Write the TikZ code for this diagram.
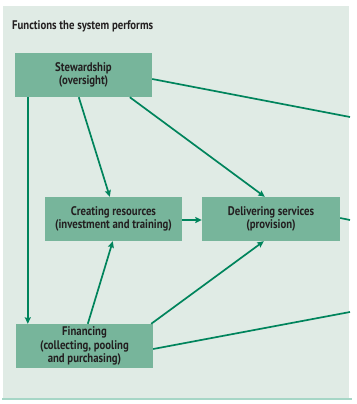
\documentclass[tikz,border=0pt]{standalone}
\usepackage{fontspec}
\setmainfont{PT Sans}[FakeStretch=0.86]
\usetikzlibrary{arrows.meta}
\definecolor{panelbg}{HTML}{E0EBE5}
\definecolor{boxfill}{HTML}{77B59B}
\definecolor{linegreen}{HTML}{00845C}
\definecolor{rulegreen}{HTML}{A6D6C6}
\definecolor{textdark}{HTML}{231F20}
\tikzset{
  fnbox/.style={draw=none, fill=boxfill, minimum width=137pt, minimum height=44pt,
    inner sep=0pt, align=center, font=\bfseries\fontsize{12.5}{13.5}\selectfont, text=textdark},
  link/.style={draw=linegreen, line width=1.7pt},
  arr/.style={link, -{Stealth[length=6.5pt,width=6pt,inset=1pt]}}
}
\begin{document}
\begin{tikzpicture}[x=1pt,y=-1pt]
  \useasboundingbox (0,0) rectangle (356,404);
  % background panel and bottom rule
  \fill[panelbg] (3,6) rectangle (349,398);
  \draw[rulegreen, line width=1.5pt] (2,399) -- (352,399);

  \node[anchor=west, font=\bfseries\fontsize{12.5}{14}\selectfont, text=textdark, inner sep=0pt]
    (title) at (12,26) {Functions the system performs};

  % function boxes
  \node[fnbox] (stew) at (83.5,75) {Stewardship\\(oversight)};
  \node[fnbox] (create) at (113.5,219) {Creating resources\\(investment and training)};
  \node[fnbox, minimum width=138pt] (deliver) at (271,219) {Delivering services\\(provision)};
  \node[fnbox] (finance) at (84.5,346) {Financing\\(collecting, pooling\\and purchasing)};

  % lines running off the right edge
  \coordinate (outA) at (350,117);
  \coordinate (outB) at (350,220);
  \coordinate (outC) at (350,312);

  % connectors
  \draw[arr] ([xshift=13pt]stew.south west) -- ([xshift=12pt]finance.north west);
  \draw[arr] ([xshift=64pt]stew.south west) -- ([xshift=65pt]create.north west);
  \draw[arr] ([xshift=115pt]stew.south west) -- ([xshift=63pt]deliver.north west);
  \draw[link] ([yshift=-4pt]stew.east) -- (outA);
  \draw[arr] ([yshift=-1pt]create.east) -- ([yshift=-1pt]deliver.west);
  \draw[link] ([yshift=1pt]deliver.east) -- (outB);
  \draw[arr] ([xshift=72pt]finance.north west) -- ([xshift=68pt]create.south west);
  \draw[arr] ([xshift=-2pt]finance.north east) -- ([xshift=62pt]deliver.south west);
  \draw[link] ([yshift=-3pt]finance.east) -- (outC);
\end{tikzpicture}
\end{document}
